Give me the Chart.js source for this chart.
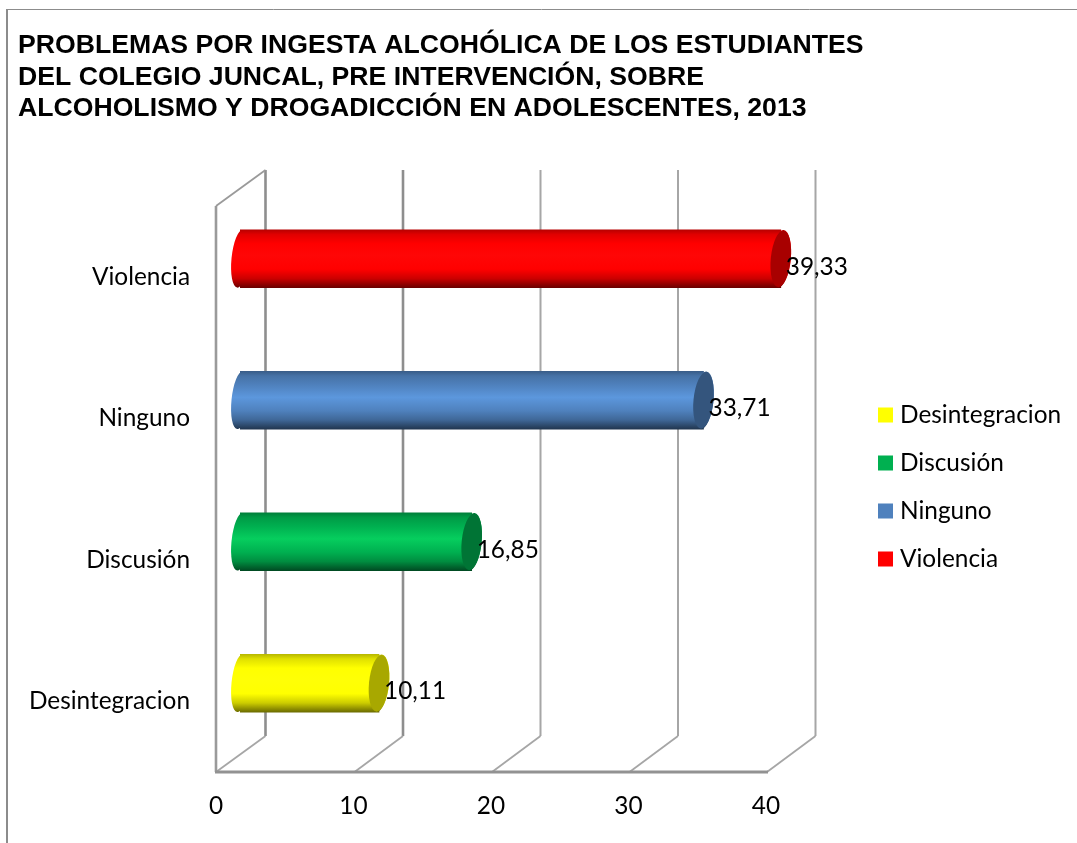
<!DOCTYPE html>
<html>
<head>
<meta charset="utf-8">
<style>html,body{margin:0;padding:0;background:#fff}canvas{display:block}</style>
<script src="https://cdn.jsdelivr.net/npm/chart.js@4/dist/chart.umd.min.js"></script>
</head>
<body>
<canvas id="c" width="1077" height="843"></canvas>
<script>
const titleLines = [
  "PROBLEMAS POR INGESTA ALCOHÓLICA DE LOS ESTUDIANTES",
  "DEL COLEGIO JUNCAL, PRE INTERVENCIÓN, SOBRE",
  "ALCOHOLISMO Y DROGADICCIÓN EN ADOLESCENTES, 2013"
];
const categories = ["Desintegracion", "Discusión", "Ninguno", "Violencia"];
const values = [10.11, 16.85, 33.71, 39.33];
const valueLabels = ["10,11", "16,85", "33,71", "39,33"];
const barColors = ["#ffff00", "#00b050", "#4f81bd", "#ff0000"];
const xTicks = [0, 10, 20, 30, 40];

const FONT = "Lato, Carlito, sans-serif";
const FS = 24.4;
const DX = 24, DY = -18, BACK_X = 49.5, BACK_Y = -36, RX = 10, RX_LEFT = 8.5, RY = 29, TILT = 0.1;

function rgb(h){return [1,3,5].map(i=>parseInt(h.slice(i,i+2),16));}
function shade(h,f){const c=rgb(h).map(v=>v*f);return `rgb(${c.map(v=>Math.round(Math.min(255,v))).join(",")})`;}
function bright(h){const c=rgb(h).map(v=>Math.min(255,v*1.17+(v<10?6:0)));return `rgb(${c.map(Math.round).join(",")})`;}
function bodyGradient(ctx2d,y,color){
  const g=ctx2d.createLinearGradient(0,y-RY,0,y+RY);
  g.addColorStop(0,shade(color,0.72));
  g.addColorStop(0.08,shade(color,0.88));
  g.addColorStop(0.24,color);
  g.addColorStop(0.45,bright(color));
  g.addColorStop(0.68,color);
  g.addColorStop(0.84,shade(color,0.8));
  g.addColorStop(1,shade(color,0.42));
  return g;
}

const cylinder = {
  id:"cylinder",
  beforeLayout(chart){
    const l=chart.legend;
    if(l && !l._wrapped){
      l._wrapped=true;
      const f=l.fit;
      l.fit=function(){f.call(this);this.width=311;};
    }
  },
  afterLayout(chart){
    const l=chart.legend;
    l.left=859.6; l.right=1077; l.top=379.2;
  },
  beforeDraw(chart){
    const c=chart.ctx;
    c.save();
    c.strokeStyle="#8c8c8c";
    c.lineWidth=2; c.beginPath(); c.moveTo(7,843); c.lineTo(7,10); c.stroke();
    c.lineWidth=1; c.beginPath(); c.moveTo(6,9.5); c.lineTo(1077,9.5); c.stroke();
    c.restore();
  },
  beforeDatasetsDraw(chart){
    const c=chart.ctx,x=chart.scales.x,a=chart.chartArea;
    c.save();
    xTicks.forEach(t=>{
      const p=x.getPixelForValue(t)+BACK_X;
      c.lineWidth=t===10||t===0?2.6:2;
      c.strokeStyle=t===10||t===0?"#8e8e8e":"#a6a6a6";
      c.beginPath();c.moveTo(p,a.top+BACK_Y);c.lineTo(p,a.bottom+BACK_Y);c.stroke();
    });
    c.strokeStyle="#a6a6a6";c.lineWidth=1.8;
    xTicks.forEach(t=>{
      const p=x.getPixelForValue(t);
      c.beginPath();c.moveTo(p+(t?1:0),a.bottom);c.lineTo(p+BACK_X,a.bottom+BACK_Y);c.stroke();
    });
    c.strokeStyle="#9a9a9a";c.lineWidth=2.6;
    c.beginPath();c.moveTo(a.left,a.bottom);c.lineTo(a.left,a.top);c.stroke();
    c.lineWidth=1.8;
    c.beginPath();c.moveTo(a.left,a.top);c.lineTo(a.left+BACK_X,a.top+BACK_Y);c.stroke();
    c.strokeStyle="#929292";c.lineWidth=3;
    c.beginPath();c.moveTo(a.left-1,a.bottom);c.lineTo(a.right+2,a.bottom);c.stroke();
    c.restore();
    c.save();
    c.translate(DX,DY);
    const m=chart.getDatasetMeta(0);
    m.data.forEach((b,i)=>{
      const g=bodyGradient(c,b.y,barColors[i]);
      c.fillStyle=g;
      c.beginPath();c.ellipse(b.base,b.y,RX_LEFT,RY,TILT,0,Math.PI*2);c.fill();
      c.beginPath();c.ellipse(b.x,b.y,RX,RY,TILT,0,Math.PI*2);c.fill();
    });
  },
  afterDatasetsDraw(chart){
    const c=chart.ctx,m=chart.getDatasetMeta(0);
    m.data.forEach((b,i)=>{
      c.fillStyle=shade(barColors[i],0.66);
      c.beginPath();c.ellipse(b.x,b.y,RX,RY-0.5,TILT,0,Math.PI*2);c.fill();
    });
    c.restore();
    c.save();
    c.fillStyle="#000";
    c.font=`${FS}px ${FONT}`;
    c.textAlign="left";c.textBaseline="middle";
    m.data.forEach((b,i)=>{
      c.fillText(valueLabels[i],b.x+DX+5,b.y+DY+8);
    });
    c.restore();
  }
};

new Chart(document.getElementById("c"),{
  type:"bar",
  data:{
    labels:categories,
    datasets:[{
      label:"Problemas",
      data:values,
      barThickness:58,
      borderWidth:0,
      backgroundColor(ctx){
        if(ctx.dataIndex===undefined) return barColors[0];
        const y=ctx.chart.scales.y.getPixelForValue(ctx.dataIndex);
        return bodyGradient(ctx.chart.ctx,y,barColors[ctx.dataIndex]);
      }
    }]
  },
  plugins:[cylinder],
  options:{
    indexAxis:"y",
    responsive:false,
    animation:false,
    devicePixelRatio:1,
    layout:{padding:{left:18,right:0,top:0,bottom:0}},
    plugins:{
      tooltip:{enabled:false},
      title:{
        display:true,
        text:titleLines,
        align:"start",
        color:"#000",
        font:{family:"'Liberation Sans', Arial, sans-serif",size:26.63,weight:"bold",lineHeight:1.183},
        padding:{top:30,bottom:81.5}
      },
      legend:{
        display:true,
        position:"right",
        align:"start",
        labels:{
          color:"#000",
          font:{family:FONT,size:FS},
          boxWidth:4.6,
          boxHeight:15,
          usePointStyle:true,
          pointStyle:"rect",
          padding:23.6,
          generateLabels(){
            return categories.map((t,i)=>({text:t,fillStyle:barColors[i],strokeStyle:barColors[i],lineWidth:0,pointStyle:"rect",index:i}));
          }
        }
      }
    },
    scales:{
      x:{
        min:0,max:40,
        grid:{display:false},
        border:{display:false},
        ticks:{stepSize:10,color:"#000",font:{family:FONT,size:FS},padding:12,maxRotation:0},
        afterFit(s){s.height=71;}
      },
      y:{
        reverse:true,
        grid:{display:false},
        border:{display:false},
        ticks:{color:"#000",font:{family:FONT,size:FS},padding:18},
        afterFit(s){s.width=198;}
      }
    }
  }
});
</script>
</body>
</html>
